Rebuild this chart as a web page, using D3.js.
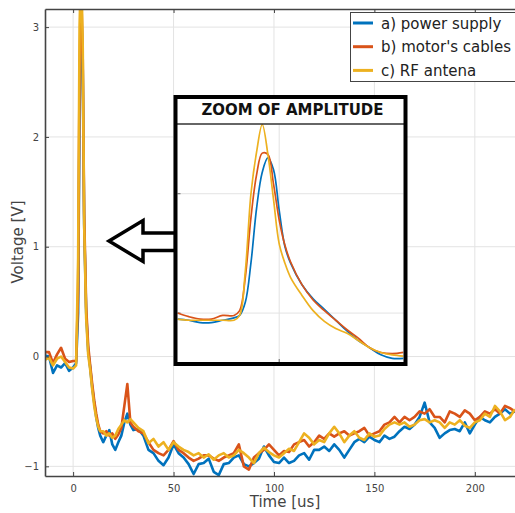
<!DOCTYPE html>
<html>
<head>
<meta charset="utf-8">
<script src="https://cdn.jsdelivr.net/npm/d3@7"></script>
<style>
  body { margin: 0; background: #fff; }
  svg { display: block; font-family: "DejaVu Sans", sans-serif; }
</style>
</head>
<body>
<svg id="canvas"></svg>
<script>
// time axis (us), shared by the three captures
const times = [-14,-12,-10,-8,-6,-4,-2,0,1.5,2.5,3.2,4,4.8,5.5,6.5,7.5,8.5,9.5,10.5,11.5,12.5,13.5,
  15,16.5,18,19.5,21,22.5,24,25.5,27,28.5,
  30,32.5,35,37.5,40,42.5,45,47.5,50,52.5,55,57.5,60,62.5,65,67.5,70,72.5,75,77.5,80,82.5,85,87.5,
  90,92.5,95,97.5,100,102.5,105,107.5,110,112.5,115,117.5,120,122.5,125,127.5,130,132.5,135,137.5,
  140,142.5,145,147.5,150,152.5,155,157.5,160,162.5,165,167.5,170,172.5,175,177.5,180,182.5,185,187.5,
  190,192.5,195,197.5,200,202.5,205,207.5,210,212.5,215,217.5,220];

const powerSupply = [0.01,0.0,-0.15,-0.08,-0.1,-0.06,-0.13,-0.1,-0.06,0.4,2.2,3.25,2.6,1.2,0.4,0.05,-0.1,-0.28,-0.42,-0.55,-0.65,-0.72,
  -0.78,-0.72,-0.67,-0.8,-0.85,-0.78,-0.72,-0.6,-0.52,-0.62,
  -0.67,-0.66,-0.72,-0.85,-0.88,-0.95,-0.99,-0.92,-0.8,-0.88,-0.92,-0.98,-1.07,-0.98,-0.97,-0.93,-1.05,-1.08,-0.98,-0.97,-0.92,-0.9,-0.98,-1.0,
  -0.97,-0.93,-0.82,-0.9,-0.96,-0.97,-0.92,-0.97,-0.95,-0.9,-0.88,-0.94,-0.85,-0.85,-0.82,-0.86,-0.8,-0.85,-0.92,-0.85,
  -0.78,-0.75,-0.78,-0.73,-0.76,-0.78,-0.72,-0.75,-0.73,-0.68,-0.64,-0.66,-0.62,-0.55,-0.42,-0.6,-0.65,-0.74,-0.7,-0.67,
  -0.66,-0.68,-0.6,-0.7,-0.62,-0.55,-0.58,-0.6,-0.55,-0.52,-0.48,-0.52,-0.5];

const motorCables = [0.04,0.04,-0.06,0.02,0.08,-0.02,-0.05,-0.04,-0.04,0.6,2.6,3.35,2.7,1.3,0.45,0.1,-0.08,-0.25,-0.4,-0.52,-0.62,-0.68,
  -0.7,-0.68,-0.72,-0.7,-0.75,-0.71,-0.65,-0.45,-0.25,-0.6,
  -0.64,-0.68,-0.7,-0.78,-0.85,-0.88,-0.9,-0.85,-0.77,-0.85,-0.88,-0.92,-0.95,-0.93,-0.9,-0.9,-0.93,-0.95,-0.92,-0.9,-0.88,-0.8,-1.0,-1.03,
  -0.92,-0.88,-0.85,-0.8,-0.85,-0.9,-0.86,-0.87,-0.8,-0.78,-0.76,-0.82,-0.78,-0.72,-0.75,-0.7,-0.73,-0.7,-0.68,-0.72,
  -0.7,-0.68,-0.65,-0.72,-0.7,-0.68,-0.62,-0.6,-0.55,-0.6,-0.55,-0.58,-0.55,-0.5,-0.52,-0.48,-0.55,-0.55,-0.6,-0.5,
  -0.52,-0.55,-0.49,-0.52,-0.58,-0.55,-0.5,-0.52,-0.48,-0.52,-0.45,-0.47,-0.5];

const rfAntena = [-0.03,-0.01,-0.08,-0.02,0.0,-0.05,-0.1,-0.11,-0.08,0.9,3.0,3.6,2.8,1.2,0.35,0.02,-0.12,-0.3,-0.45,-0.56,-0.64,-0.68,
  -0.68,-0.72,-0.7,-0.74,-0.72,-0.66,-0.62,-0.58,-0.6,-0.57,
  -0.6,-0.65,-0.68,-0.79,-0.75,-0.82,-0.78,-0.85,-0.78,-0.82,-0.85,-0.87,-0.9,-0.88,-0.92,-0.89,-0.94,-0.9,-0.88,-0.92,-0.9,-0.85,-0.88,-0.92,
  -0.97,-0.88,-0.83,-0.87,-0.9,-0.92,-0.88,-0.84,-0.86,-0.78,-0.7,-0.74,-0.8,-0.76,-0.78,-0.7,-0.64,-0.7,-0.78,-0.72,
  -0.68,-0.74,-0.76,-0.7,-0.73,-0.72,-0.66,-0.62,-0.6,-0.62,-0.6,-0.64,-0.62,-0.58,-0.57,-0.6,-0.58,-0.6,-0.65,-0.6,
  -0.62,-0.58,-0.63,-0.65,-0.6,-0.58,-0.52,-0.55,-0.45,-0.5,-0.58,-0.55,-0.48];

// zoomed view of the pulse (own axes, unlabelled)
const zoomTimes = [0,0.5,1,1.5,2,2.5,2.75,3,3.25,3.5,3.75,4,4.25,4.5,4.75,5,5.5,6,6.5,7,7.5,8,8.5,9,9.5,10];
const zoomPower = [-0.05,-0.06,-0.08,-0.08,-0.06,-0.04,-0.02,0.09,0.42,0.88,1.18,1.3,1.2,0.86,0.56,0.42,0.24,0.12,0.03,-0.06,-0.15,-0.23,-0.29,-0.35,-0.38,-0.38];
const zoomMotor = [0.0,-0.03,-0.05,-0.05,-0.02,-0.02,0.02,0.3,0.8,1.16,1.34,1.33,1.08,0.78,0.57,0.43,0.24,0.11,0.02,-0.06,-0.14,-0.21,-0.29,-0.33,-0.34,-0.33];
const zoomRF = [-0.05,-0.06,-0.06,-0.06,-0.06,-0.06,-0.02,0.35,1.0,1.35,1.58,1.33,0.95,0.58,0.42,0.3,0.15,0.02,-0.07,-0.13,-0.17,-0.23,-0.29,-0.33,-0.35,-0.36];

const seriesNames = ["a) power supply", "b) motor's cables", "c) RF antena"];
const colors = ["#0072BD", "#D95319", "#EDB120"];
const xTicks = [0, 50, 100, 150, 200];
const yTicks = [-1, 0, 1, 2, 3];

const W = 515, H = 513;
const plot = {left: 45, right: 515, top: 9, bottom: 476};

const svg = d3.select("#canvas").attr("width", W).attr("height", H);

const x = d3.scaleLinear().domain([-14, 220]).range([plot.left, plot.right]);
const y = d3.scaleLinear().domain([-1.088, 3.165]).range([plot.bottom, plot.top]);

// grid
svg.append("g").selectAll("line").data(xTicks).enter().append("line")
  .attr("x1", d => x(d)).attr("x2", d => x(d))
  .attr("y1", plot.top).attr("y2", plot.bottom)
  .attr("stroke", "#e3e3e3").attr("stroke-width", 1);
svg.append("g").selectAll("line").data(yTicks).enter().append("line")
  .attr("x1", plot.left).attr("x2", plot.right)
  .attr("y1", d => y(d)).attr("y2", d => y(d))
  .attr("stroke", "#e3e3e3").attr("stroke-width", 1);

// clip
svg.append("clipPath").attr("id", "clip").append("rect")
  .attr("x", plot.left).attr("y", plot.top)
  .attr("width", plot.right - plot.left).attr("height", plot.bottom - plot.top);

const line = d3.line().x(d => x(d[0])).y(d => y(d[1]));
const mainSeries = [powerSupply, motorCables, rfAntena];
svg.append("g").attr("clip-path", "url(#clip)")
  .selectAll("path").data(mainSeries).enter().append("path")
  .attr("d", vals => line(times.map((t, i) => [t, vals[i]])))
  .attr("fill", "none")
  .attr("stroke", (d, i) => colors[i])
  .attr("stroke-width", 2.6)
  .attr("stroke-linejoin", "round");

// axes
const axisColor = "#444";
const xAxis = svg.append("g").attr("transform", `translate(0,${plot.bottom})`)
  .call(d3.axisBottom(x).tickValues(xTicks).tickSize(-4).tickSizeOuter(0).tickPadding(9).tickFormat(d3.format("d")));
const xTop = svg.append("g").attr("transform", `translate(0,${plot.top})`)
  .call(d3.axisTop(x).tickValues(xTicks).tickSize(-4).tickSizeOuter(0).tickFormat(""));
const yAxis = svg.append("g").attr("transform", `translate(${plot.left},0)`)
  .call(d3.axisLeft(y).tickValues(yTicks).tickSize(-4).tickSizeOuter(0).tickPadding(6).tickFormat(d3.format("d")));
[xAxis, xTop, yAxis].forEach(g => {
  g.select(".domain").attr("stroke", axisColor).attr("stroke-width", 1.6);
  g.selectAll(".tick line").attr("stroke", axisColor);
  g.selectAll(".tick text").attr("fill", "#444").attr("font-size", 10)
    .attr("font-family", "DejaVu Sans, sans-serif");
});

// axis labels
svg.append("text").attr("x", 285).attr("y", 507).attr("text-anchor", "middle")
  .attr("font-size", 15).attr("fill", "#444").text("Time [us]");
svg.append("text").attr("transform", "translate(23,242) rotate(-90)")
  .attr("text-anchor", "middle").attr("font-size", 15).attr("fill", "#444").text("Voltage [V]");

// legend
const leg = svg.append("g");
leg.append("rect").attr("x", 350.5).attr("y", 12.5).attr("width", 190).attr("height", 69)
  .attr("fill", "#fff").attr("stroke", "#444").attr("stroke-width", 1);
seriesNames.forEach((name, i) => {
  const cy = 23 + i * 23.7;
  leg.append("line").attr("x1", 353).attr("x2", 373).attr("y1", cy).attr("y2", cy)
    .attr("stroke", colors[i]).attr("stroke-width", 3);
  leg.append("text").attr("x", 381).attr("y", cy + 5.5).attr("font-size", 15)
    .attr("fill", "#222").text(name);
});

// inset: zoom of amplitude
const box = {x: 175.5, y: 97, w: 230, h: 267};
const inner = {left: 177.5, right: 403.5, top: 124.5, bottom: 362};
const ix = d3.scaleLinear().domain([0, 10]).range([inner.left, inner.right]);
const iy = d3.scaleLinear().domain([-0.41, 1.58]).range([inner.bottom, inner.top]);

// arrow pointing from the inset back to the pulse
const arrowPts = [[109, 241], [143, 220.5], [143, 233], [box.x, 233], [box.x, 250.5], [143, 250.5], [143, 261.5]];
svg.append("polygon").attr("points", arrowPts.map(p => p.join(",")).join(" "))
  .attr("fill", "#fff").attr("stroke", "#000").attr("stroke-width", 3.5)
  .attr("stroke-linejoin", "miter");

const inset = svg.append("g");
inset.append("rect").attr("x", box.x).attr("y", box.y).attr("width", box.w).attr("height", box.h)
  .attr("fill", "#fff");
inset.selectAll(".gx").data([4.5]).enter().append("line")
  .attr("x1", d => ix(d)).attr("x2", d => ix(d)).attr("y1", inner.top).attr("y2", inner.bottom)
  .attr("stroke", "#e3e3e3");
inset.selectAll(".gy").data([0, 1]).enter().append("line")
  .attr("x1", inner.left).attr("x2", inner.right).attr("y1", d => iy(d)).attr("y2", d => iy(d))
  .attr("stroke", "#e3e3e3");
inset.selectAll(".ty").data([0, 1]).enter().append("line")
  .attr("x1", inner.left).attr("x2", inner.left + 3).attr("y1", d => iy(d)).attr("y2", d => iy(d))
  .attr("stroke", "#666");
inset.append("line").attr("x1", ix(4.5)).attr("x2", ix(4.5))
  .attr("y1", inner.bottom).attr("y2", inner.bottom - 3).attr("stroke", "#666");

svg.append("clipPath").attr("id", "iclip").append("rect")
  .attr("x", inner.left).attr("y", inner.top - 1)
  .attr("width", inner.right - inner.left).attr("height", inner.bottom - inner.top + 1);
const iline = d3.line().curve(d3.curveCatmullRom).x(d => ix(d[0])).y(d => iy(d[1]));
inset.append("g").attr("clip-path", "url(#iclip)")
  .selectAll("path").data([zoomPower, zoomMotor, zoomRF]).enter().append("path")
  .attr("d", vals => iline(zoomTimes.map((t, i) => [t, vals[i]])))
  .attr("fill", "none")
  .attr("stroke", (d, i) => colors[i])
  .attr("stroke-width", 1.7);

inset.append("line").attr("x1", box.x).attr("x2", box.x + box.w)
  .attr("y1", inner.top - 0.5).attr("y2", inner.top - 0.5)
  .attr("stroke", "#333").attr("stroke-width", 1.5);
inset.append("text").attr("x", 292.5).attr("y", 115).attr("text-anchor", "middle")
  .attr("font-size", 16).attr("font-weight", "bold").attr("fill", "#111")
  .attr("textLength", 182).attr("lengthAdjust", "spacingAndGlyphs")
  .text("ZOOM OF AMPLITUDE");
inset.append("rect").attr("x", box.x).attr("y", box.y).attr("width", box.w).attr("height", box.h)
  .attr("fill", "none").attr("stroke", "#000").attr("stroke-width", 4);
</script>
</body>
</html>
